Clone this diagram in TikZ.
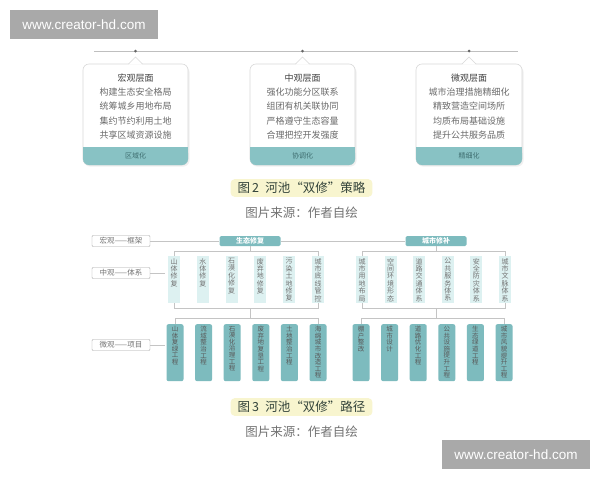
\documentclass[tikz,border=0pt]{standalone}
\usepackage{fontspec}
\newfontfamily\cjk{Noto Sans CJK SC}
\newfontfamily\wmfont{Liberation Sans}
\usetikzlibrary{calc}
\definecolor{tealband}{HTML}{88C2C4}
\definecolor{tealbox}{HTML}{7DBBBE}
\definecolor{tealdark}{HTML}{3F6E70}
\definecolor{paleteal}{HTML}{DDF1F1}
\definecolor{linegray}{HTML}{C4C4C4}
\definecolor{capglow}{HTML}{F8F5CF}
\definecolor{capgreen}{HTML}{33433A}
\definecolor{wmgray}{HTML}{A9A9A9}
\tikzstyle{link}=[draw=linegray, line width=0.7pt]
\tikzstyle{levelbox}=[draw=black!35, fill=white, rounded corners=1pt, minimum width=58pt, minimum height=11pt, inner sep=0pt, text=black!55, font=\cjk\fontsize{7.5}{8}\selectfont]
\tikzstyle{header}=[fill=tealbox, rounded corners=1.5pt, minimum width=61pt, minimum height=10pt, inner sep=0pt, text=white, font=\cjk\bfseries\fontsize{7}{8}\selectfont]
\tikzstyle{midbox}=[fill=paleteal, inner sep=0pt, anchor=north, text=black!55, font=\cjk\fontsize{7}{7.4}\selectfont]
\tikzstyle{projbox}=[fill=tealbox, rounded corners=2pt, inner sep=0pt, anchor=north, text=black!65, font=\cjk\fontsize{6.5}{6.6}\selectfont]
\tikzstyle{calltext}=[align=center, text=black!58, font=\cjk\fontsize{9}{14.3}\selectfont]
\tikzstyle{calltag}=[text=tealdark, font=\cjk\fontsize{7}{8}\selectfont]
\tikzstyle{figcap}=[text=capgreen, font=\cjk\fontsize{12.5}{14}\selectfont]
\tikzstyle{figsrc}=[text=black!55, font=\cjk\fontsize{12.5}{14}\selectfont]
\tikzstyle{watermark}=[fill=wmgray, text=white, font=\wmfont\fontsize{13.5}{15}\selectfont, minimum width=148pt, minimum height=29pt, inner sep=0pt]
% one character per line, top aligned
\def\vcharsloop#1{\ifx#1\relax\else#1\par\expandafter\vcharsloop\fi}
\newcommand{\vlabel}[3]{\parbox[t][#1][t]{#2}{\centering\vspace{2pt}\expandafter\vcharsloop#3\relax}}
\newcommand{\drawcallout}[3]{
  % #1 tip, #2 left edge, #3 right edge
  \fill[black!6, rounded corners=6pt] (#2+1,66) rectangle (#3+1.5,166.5);
  \draw[draw=black!15, fill=white, line width=0.6pt, rounded corners=6pt] (#2,64) rectangle (#3,165);
  \fill[tealband, rounded corners=6pt] (#2,147) rectangle (#3,165);
  \fill[tealband] (#2,147) rectangle (#3,155);
  \fill[white] (#1-7,64.6) -- (#1,57) -- (#1+7,64.6) -- cycle;
  \draw[draw=black!15, line width=0.6pt] (#1-7,64) -- (#1,57) -- (#1+7,64);
}

\begin{document}
\begin{tikzpicture}[x=1pt,y=-1pt]
  \fill[white] (0,0) rectangle (600,480);
  \useasboundingbox (0,0) rectangle (600,480);

  % figure 2
  \coordinate (tlStart) at (94,51);
  \coordinate (tlEnd) at (518,51);
  \draw[draw=black!25, line width=0.6pt] (tlStart) -- (tlEnd);
  \drawcallout{135.5}{83}{188}
  \drawcallout{302.5}{250}{355}
  \drawcallout{469}{416}{522}
  \foreach \x in {135.5,302.5,469}
    \fill[black!60] (\x,51) circle (1.5);
  \node[calltext] (macroTxt) at (135.5,106.5) {\textcolor{black!75}{宏观层面}\\构建生态安全格局\\统筹城乡用地布局\\集约节约利用土地\\共享区域资源设施};
  \node[calltext] (mesoTxt) at (302.5,106.5) {\textcolor{black!75}{中观层面}\\强化功能分区联系\\组团有机关联协同\\严格遵守生态容量\\合理把控开发强度};
  \node[calltext] (microTxt) at (469,106.5) {\textcolor{black!75}{微观层面}\\城市治理措施精细化\\精致营造空间场所\\均质布局基础设施\\提升公共服务品质};
  \node[calltag] (macroTag) at (135.5,156) {区域化};
  \node[calltag] (mesoTag) at (302.5,156) {协调化};
  \node[calltag] (microTag) at (469,156) {精细化};
  \node[figcap, fill=capglow, rounded corners=4pt, inner xsep=7pt, inner ysep=3pt] (capA) at (301.5,188) {图\,2\enspace 河池“双修”策略};
  \node[figsrc] (srcA) at (301.5,213) {图片来源：作者自绘};

  % figure 3
  \node[levelbox] (macro) at (121,241) {宏观——框架};
  \node[levelbox] (meso) at (121,273) {中观——体系};
  \node[levelbox] (micro) at (121,345) {微观——项目};
  \coordinate (mesoEnd) at (165,273);
  \coordinate (microEnd) at (165,345);
  \node[header] (eco) at (250,241) {生态修复};
  \node[header] (city) at (436,241) {城市修补};
  \draw[link] (macro) -- (eco) (eco) -- (city);
  \draw[link] (meso) -- (mesoEnd);
  \draw[link] (micro) -- (microEnd);

  \foreach \lbl [count=\i] in {山体修复,水体修复,石漠化修复,废弃地修复,污染土地修复,城市底线管控}
    \node[midbox] (em\i) at (174+28.8*\i-28.8,256) {\vlabel{47pt}{12pt}{\lbl}};
  \foreach \lbl [count=\i] in {城市用地布局,空间环境形态,道路交通体系,公共服务体系,安全防灾体系,城市文脉体系}
    \node[midbox] (cm\i) at (362+28.6*\i-28.6,256) {\vlabel{47pt}{12pt}{\lbl}};
  \foreach \lbl [count=\i] in {山体复绿工程,流域整治工程,石漠化治理工程,废弃地复垦工程,土地整治工程,海绵城市改造工程}
    \node[projbox] (ep\i) at (175+28.6*\i-28.6,324) {\vlabel{57pt}{17pt}{\lbl}};
  \foreach \lbl [count=\i] in {棚户整改,城市设计,道路优化工程,公共设施提升工程,生态绿道工程,城市风貌提升工程}
    \node[projbox] (cp\i) at (361+28.6*\i-28.6,324) {\vlabel{57pt}{17pt}{\lbl}};

  \coordinate (ecoTop) at (250,251);
  \coordinate (ecoBot) at (250,308);
  \coordinate (ecoLow) at (250,318);
  \coordinate (cityTop) at (436,251);
  \coordinate (cityBot) at (436,308);
  \coordinate (cityLow) at (436,318);
  \draw[link] (eco) -- (ecoTop);
  \draw[link] (em1.north) -- (em1.north |- ecoTop) -- (em6.north |- ecoTop) -- (em6.north);
  \draw[link] (em1.south) -- (em1.south |- ecoBot) -- (em6.south |- ecoBot) -- (em6.south);
  \draw[link] (ecoBot) -- (ecoLow);
  \draw[link] (ep1.north) -- (ep1.north |- ecoLow) -- (ep6.north |- ecoLow) -- (ep6.north);
  \draw[link] (city) -- (cityTop);
  \draw[link] (cm1.north) -- (cm1.north |- cityTop) -- (cm6.north |- cityTop) -- (cm6.north);
  \draw[link] (cm1.south) -- (cm1.south |- cityBot) -- (cm6.south |- cityBot) -- (cm6.south);
  \draw[link] (cityBot) -- (cityLow);
  \draw[link] (cp1.north) -- (cp1.north |- cityLow) -- (cp6.north |- cityLow) -- (cp6.north);

  \node[figcap, fill=capglow, rounded corners=4pt, inner xsep=7pt, inner ysep=3pt] (capB) at (301.5,407) {图\,3\enspace 河池“双修”路径};
  \node[figsrc] (srcB) at (301.5,432) {图片来源：作者自绘};

  % watermarks
  \node[watermark] (wmTop) at (84,24.5) {www.creator-hd.com};
  \node[watermark] (wmBot) at (516,454.5) {www.creator-hd.com};
\end{tikzpicture}
\end{document}
